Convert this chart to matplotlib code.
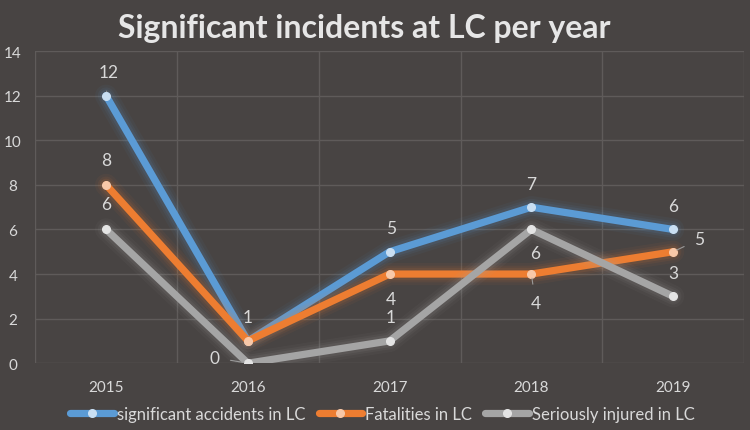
import numpy as np
import matplotlib.pyplot as plt

# data
years = ['2015', '2016', '2017', '2018', '2019']
accidents = [12, 1, 5, 7, 6]
fatalities = [8, 1, 4, 4, 5]
injured = [6, 0, 1, 6, 3]
series_names = ['significant accidents in LC', 'Fatalities in LC', 'Seriously injured in LC']

BG = '#484443'
GRID = '#5f5b5a'
TXT = '#d9d9d9'
colors = ['#5b9bd5', '#ed7d31', '#a5a5a5']
dots = ['#c9dff3', '#f8c8a8', '#e4e4e4']

# label offsets in points (dx, dy, leader line?)
offsets = [
    [(2, 17, True), (0, 17, False), (1, 17, False), (0, 17, False), (0, 17, False)],
    [(0, 18, False), None, (1, -18, False), (3, -21, True), (19, 9, True)],
    [(0, 18, False), (-24, 4, True), (1, 17, False), (3, -17, False), (0, 17, False)],
]

plt.rcParams['font.family'] = ['Lato', 'DejaVu Sans']

fig = plt.figure(figsize=(7.5, 4.31), dpi=100, facecolor=BG)
ax = fig.add_axes([0.047, 0.155, 0.945, 0.724], facecolor=BG)

x = np.arange(len(years))
all_series = [accidents, fatalities, injured]

for k, (vals, c, dc, name) in enumerate(zip(all_series, colors, dots, series_names)):
    # soft glow
    for w, a in [(16, 0.05), (12, 0.07), (9, 0.1)]:
        ax.plot(x, vals, color=c, lw=w, alpha=a, solid_capstyle='round', zorder=2 + k)
    ax.plot(x, vals, color=c, lw=5.2, solid_capstyle='round', solid_joinstyle='miter',
            marker='o', ms=5.5, mfc=dc, mec=dc, zorder=3 + k, label=name)
    for i, v in enumerate(vals):
        off = offsets[k][i]
        if off is None:
            continue
        dx, dy, lead = off
        ap = dict(arrowstyle='-', color='#9a9a9a', lw=0.8, shrinkA=6, shrinkB=3) if lead else None
        ax.annotate(str(v), (i, v), xytext=(dx, dy), textcoords='offset points',
                    ha='center', va='center', fontsize=12.5, color=TXT,
                    arrowprops=ap, zorder=10)

ax.set_xlim(-0.5, len(years) - 0.5)
ax.set_ylim(0, 14)
ax.set_yticks(range(0, 15, 2))
ax.set_xticks(x)
ax.set_xticklabels(years)
ax.set_xticks(np.arange(-0.5, len(years), 1), minor=True)
ax.grid(axis='y', color=GRID, lw=1)
ax.grid(axis='x', which='minor', color=GRID, lw=1)
ax.set_axisbelow(True)
for s in ax.spines.values():
    s.set_visible(False)
ax.tick_params(which='both', length=0, colors=TXT, labelsize=11)
ax.tick_params(axis='y', pad=16)
ax.tick_params(axis='x', pad=12)
for lab in ax.get_yticklabels():
    lab.set_ha('center')

fig.text(0.485, 0.935, 'Significant incidents at LC per year', ha='center', va='center',
         fontsize=23, fontweight='bold', color='#e6e6e6')

leg = fig.legend(loc='center', bbox_to_anchor=(0.51, 0.037), ncol=3, frameon=False,
                 fontsize=12, handlelength=2.6, handletextpad=0.2, columnspacing=0.8,
                 labelcolor=TXT)

fig.savefig('out.png', dpi=100, facecolor=BG)
